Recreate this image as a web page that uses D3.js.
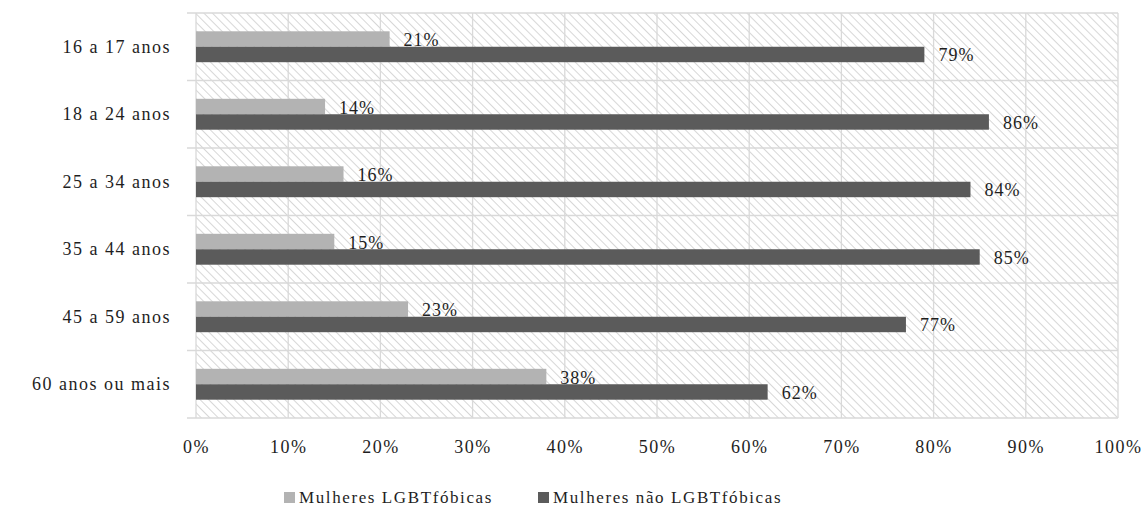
<!DOCTYPE html>
<html>
<head>
<meta charset="utf-8">
<script src="https://cdn.jsdelivr.net/npm/d3@7"></script>
<style>
  html, body { margin: 0; padding: 0; background: #fff; }
  svg text { font-family: "Liberation Serif", "DejaVu Serif", serif; fill: #1e1e1e; }
</style>
</head>
<body>
<svg id="chart" width="1148" height="508"></svg>
<script>
// Faixas etárias e percentuais por grupo
const categories = ["16 a 17 anos", "18 a 24 anos", "25 a 34 anos", "35 a 44 anos", "45 a 59 anos", "60 anos ou mais"];
const seriesNames = ["Mulheres LGBTfóbicas", "Mulheres não LGBTfóbicas"];
const lgbtfobicas = [21, 14, 16, 15, 23, 38];
const naoLgbtfobicas = [79, 86, 84, 85, 77, 62];
const xTicks = [0, 10, 20, 30, 40, 50, 60, 70, 80, 90, 100];
const colors = ["#b3b3b3", "#5b5b5b"];

const rows = categories.map((c, i) => ({ cat: c, values: [lgbtfobicas[i], naoLgbtfobicas[i]] }));

const svg = d3.select("#chart");
const m = { left: 196, right: 1148 - 1118, top: 13, bottom: 508 - 418 };
const W = 1148 - m.left - m.right, H = 508 - m.top - m.bottom;

const x = d3.scaleLinear().domain([0, 100]).range([0, W]);
const y = d3.scaleBand().domain(categories).range([0, H]);
const inner = d3.scaleBand().domain([0, 1]).range([18.3, y.bandwidth() - 18.3]);

// Diagonal hatch for the plot background (lines running top-left to bottom-right)
const defs = svg.append("defs");
const pat = defs.append("pattern")
  .attr("id", "hatch").attr("patternUnits", "userSpaceOnUse")
  .attr("width", 6).attr("height", 6)
  .attr("patternTransform", "rotate(45)");
pat.append("rect").attr("width", 6).attr("height", 6).attr("fill", "#fff");
pat.append("line").attr("x1", 0).attr("y1", 0).attr("x2", 6).attr("y2", 0)
  .attr("stroke", "#cdcdcd").attr("stroke-width", 1.6);

const g = svg.append("g").attr("transform", `translate(${m.left},${m.top})`);

g.append("rect").attr("width", W).attr("height", H).attr("fill", "url(#hatch)");

// Vertical grid lines
g.append("g").selectAll("line").data(xTicks).join("line")
  .attr("x1", d => x(d)).attr("x2", d => x(d))
  .attr("y1", 0).attr("y2", H)
  .attr("stroke", "#d9d9d9").attr("stroke-width", 1.3);

// Horizontal band separators with small ticks to the left
const bounds = categories.map(c => y(c)).concat([H]);
g.append("g").selectAll("line").data(bounds).join("line")
  .attr("x1", -9).attr("x2", W)
  .attr("y1", d => d).attr("y2", d => d)
  .attr("stroke", "#d9d9d9").attr("stroke-width", 1.3);

// Bars
const groups = g.append("g").selectAll("g").data(rows).join("g")
  .attr("transform", d => `translate(0,${y(d.cat)})`);

groups.selectAll("rect").data(d => d.values.map((v, k) => ({ v, k }))).join("rect")
  .attr("x", 0)
  .attr("y", d => inner(d.k))
  .attr("width", d => x(d.v))
  .attr("height", inner.bandwidth())
  .attr("fill", d => colors[d.k]);

groups.selectAll("text.val").data(d => d.values.map((v, k) => ({ v, k }))).join("text")
  .attr("class", "val")
  .attr("x", d => x(d.v) + 14)
  .attr("y", d => inner(d.k) + inner.bandwidth() / 2 + 1)
  .attr("dominant-baseline", "central")
  .attr("font-size", 18)
  .attr("letter-spacing", 1)
  .text(d => d.v + "%");

// Category labels
g.append("g").selectAll("text").data(categories).join("text")
  .attr("x", -25)
  .attr("y", d => y(d) + y.bandwidth() / 2)
  .attr("text-anchor", "end")
  .attr("dominant-baseline", "central")
  .attr("font-size", 18)
  .attr("letter-spacing", 1.5)
  .text(d => d);

// Bottom axis labels
const xAxis = d3.axisBottom(x).tickValues(xTicks).tickFormat(d => d + "%").tickSize(0).tickPadding(22);
const ax = g.append("g").attr("transform", `translate(0,${H})`).call(xAxis);
ax.select(".domain").remove();
ax.selectAll("text")
  .attr("font-size", 18)
  .attr("letter-spacing", 1.5)
  .style("font-family", '"Liberation Serif", "DejaVu Serif", serif')
  .attr("fill", "#1e1e1e");

// Legend
const legendItems = [{ name: seriesNames[0], x: 284 }, { name: seriesNames[1], x: 538 }];
const lg = svg.append("g").selectAll("g").data(legendItems).join("g")
  .attr("transform", d => `translate(${d.x},0)`);
lg.append("rect").attr("x", 0).attr("y", 492).attr("width", 11).attr("height", 11)
  .attr("fill", (d, i) => colors[i]);
lg.append("text").attr("x", 15).attr("y", 497)
  .attr("dominant-baseline", "central")
  .attr("font-size", 17)
  .attr("letter-spacing", 1.6)
  .text(d => d.name);
</script>
</body>
</html>
